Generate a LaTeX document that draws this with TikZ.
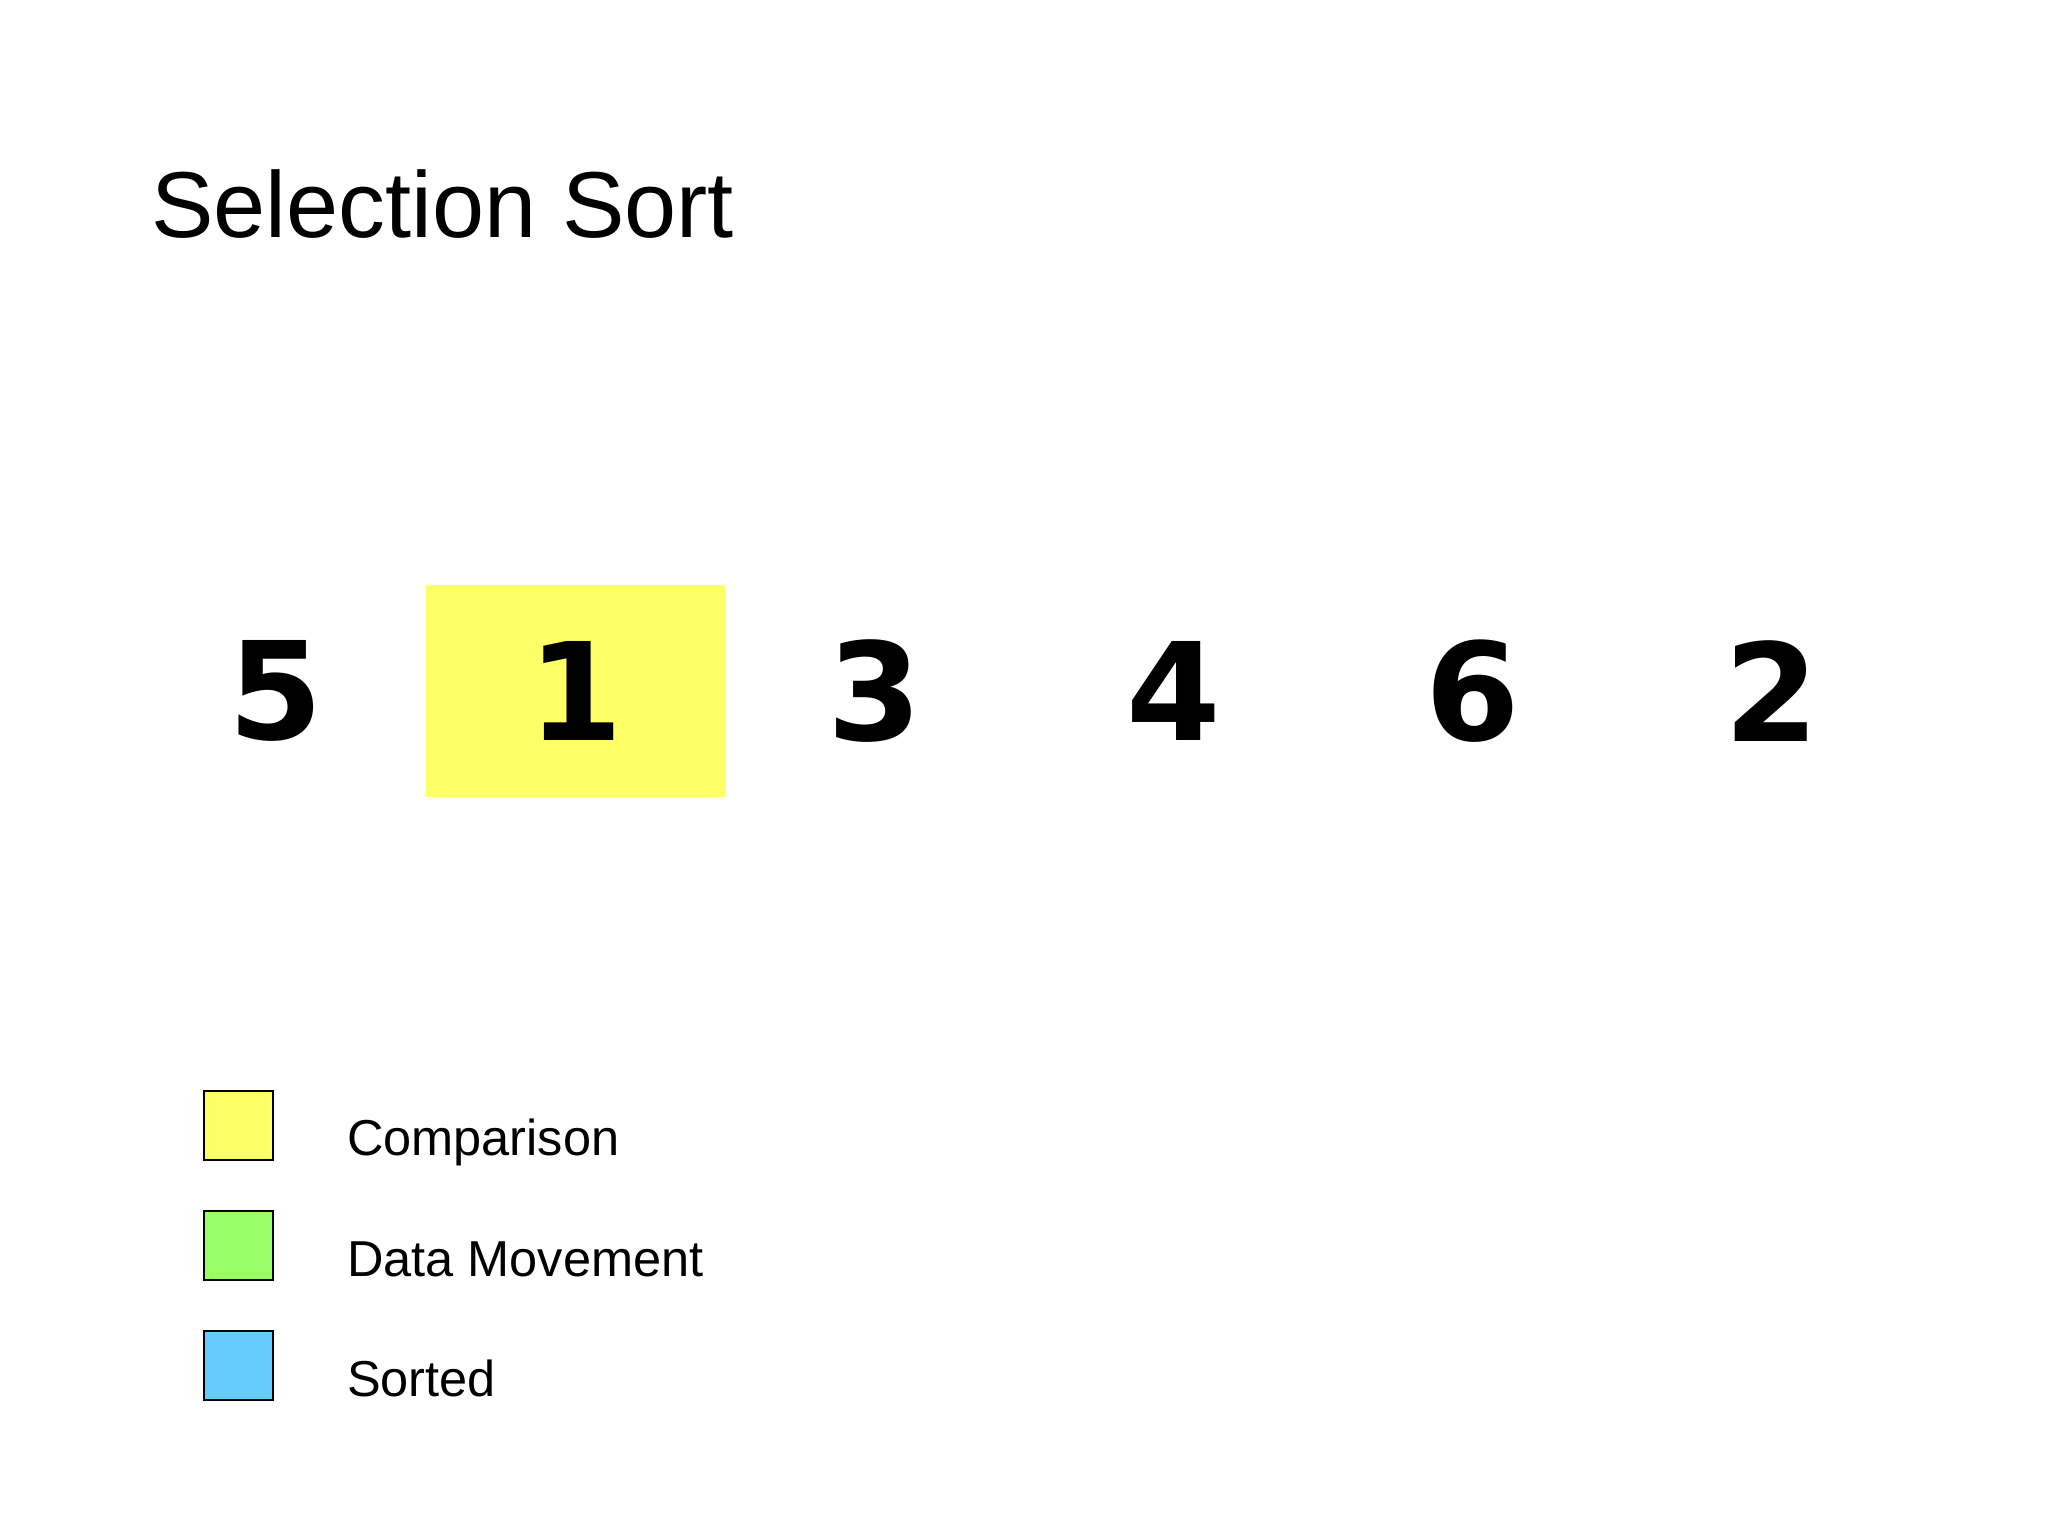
\documentclass[tikz,border=0pt]{standalone}
\usepackage{fontspec}
\setmainfont{Liberation Sans}
\newfontfamily\digitfont{DejaVu Sans}
\usetikzlibrary{positioning}
\definecolor{compyellow}{HTML}{FFFF66}
\definecolor{movegreen}{HTML}{99FF66}
\definecolor{sortblue}{HTML}{66CCFF}

\begin{document}
\begin{tikzpicture}[
cellnode/.style={rectangle, minimum width=22.9mm, minimum height=16.2mm, inner sep=0pt, outer sep=0pt, font=\digitfont\bfseries\fontsize{29.6}{29.6}\selectfont},
comparenode/.style={cellnode, fill=compyellow},
keynode/.style={rectangle, draw=black, thin, minimum size=5.3mm, inner sep=0pt, outer sep=0pt},
keytext/.style={inner sep=0pt, font=\fontsize{11}{11}\selectfont},
]
\useasboundingbox[fill=white] (0,0) rectangle (15.68,-11.76);

%Title
\node[anchor=base west, inner sep=0pt, font=\fontsize{20.4}{20.4}\selectfont] (title) at (1.15,-1.82) {Selection Sort};

%Nodes
\node[cellnode]    (five)                      at (2.115,-5.29) {5};
\node[comparenode] (one)   [right=0mm of five]  {1};
\node[cellnode]    (three) [right=0mm of one]   {3};
\node[cellnode]    (four)  [right=0mm of three] {4};
\node[cellnode]    (six)   [right=0mm of four]  {6};
\node[cellnode]    (two)   [right=0mm of six]   {2};

%Legend
\node[keynode, fill=compyellow] (compkey) at (1.825,-8.615) {};
\node[keynode, fill=movegreen]  (movekey) [below=3.9mm of compkey] {};
\node[keynode, fill=sortblue]   (sortkey) [below=3.9mm of movekey] {};
\node[keytext] (comptext) [base right=5.6mm of compkey.south east, yshift=0.3mm] {Comparison};
\node[keytext] (movetext) [base right=5.6mm of movekey.south east, yshift=0.3mm] {Data Movement};
\node[keytext] (sorttext) [base right=5.6mm of sortkey.south east, yshift=0.3mm] {Sorted};

\end{tikzpicture}
\end{document}
